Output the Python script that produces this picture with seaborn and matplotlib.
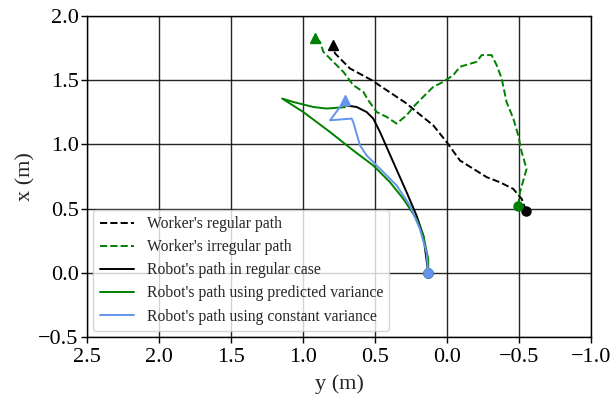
import matplotlib
matplotlib.use("Agg")
import matplotlib.pyplot as plt
import seaborn as sns
import numpy as np
import pandas as pd

# Worker's regular path (black dashed)  (y, x)
wr_y = [-0.549, -0.519, -0.460, -0.368, -0.276, -0.183, -0.090, 0.002, 0.095, 0.210, 0.280, 0.419, 0.523, 0.674, 0.778, 0.790]
wr_x = [0.484, 0.576, 0.654, 0.705, 0.745, 0.810, 0.875, 1.018, 1.148, 1.252, 1.318, 1.422, 1.500, 1.591, 1.709, 1.773]

# Worker's irregular path (green dashed)
wi_y = [-0.495, -0.507, -0.553, -0.519, -0.495, -0.461, -0.414, -0.380, -0.345, -0.310, -0.241, -0.206, -0.090, -0.044,
        0.026, 0.095, 0.165, 0.222, 0.280, 0.350, 0.419, 0.488, 0.547, 0.581, 0.651, 0.720, 0.790, 0.859, 0.882, 0.917]
wi_x = [0.523, 0.627, 0.810, 0.940, 1.070, 1.201, 1.330, 1.513, 1.617, 1.695, 1.695, 1.643, 1.604, 1.539,
        1.487, 1.448, 1.370, 1.305, 1.227, 1.162, 1.214, 1.252, 1.344, 1.409, 1.461, 1.565, 1.643, 1.721, 1.799, 1.826]

# Robot's path in regular case (black solid)
rr_y = [0.130, 0.164, 0.211, 0.280, 0.373, 0.465, 0.512, 0.558, 0.627, 0.708]
rr_x = [0.000, 0.289, 0.445, 0.627, 0.862, 1.096, 1.201, 1.252, 1.291, 1.305]

# Robot's path using predicted variance (green solid)
rp_y = [0.130, 0.130, 0.164, 0.211, 0.303, 0.396, 0.512, 0.651, 0.812, 0.998, 1.145, 1.067, 0.928, 0.836, 0.708]
rp_x = [0.000, 0.107, 0.289, 0.420, 0.576, 0.706, 0.836, 0.953, 1.096, 1.252, 1.357, 1.330, 1.291, 1.279, 1.290]

# Robot's path using constant variance (blue solid)
rc_y = [0.130, 0.142, 0.188, 0.257, 0.349, 0.465, 0.558, 0.604, 0.651, 0.662, 0.812, 0.708]
rc_x = [0.000, 0.159, 0.341, 0.523, 0.680, 0.810, 0.914, 0.992, 1.174, 1.201, 1.1875, 1.344]

sns.set_style("white")
plt.rcParams['font.family'] = ['Liberation Serif', 'DejaVu Serif']
plt.rcParams['mathtext.fontset'] = 'stix'

fig = plt.figure(figsize=(6.13, 3.98), dpi=100)
ax = fig.add_axes([0.142, 0.153, 0.822, 0.807])

series = [
    ("Worker's regular path", wr_y, wr_x, 'black', '--', True),
    ("Worker's irregular path", wi_y, wi_x, 'green', '--', True),
    ("Robot's path in regular case", rr_y, rr_x, 'black', '-', False),
    ("Robot's path using predicted variance", rp_y, rp_x, 'green', '-', False),
    ("Robot's path using constant variance", rc_y, rc_x, 'cornflowerblue', '-', True),
]

for label, ys, xs, col, ls, endmark in series:
    df = pd.DataFrame({'y': ys, 'x': xs})
    sns.lineplot(data=df, x='y', y='x', sort=False, estimator=None, color=col,
                 linestyle=ls, linewidth=1.4, ax=ax, label=label)
    ax.plot(ys[0], xs[0], marker='o', color=col, markersize=6.5, linestyle='none')
    if endmark:
        ax.plot(ys[-1], xs[-1], marker='^', color=col, markersize=6.5, linestyle='none')

ax.set_xlim(2.5, -1.0)
ax.set_ylim(-0.5, 2.0)
ax.set_xticks(np.arange(2.5, -1.01, -0.5))
ax.set_yticks(np.arange(-0.5, 2.01, 0.5))
ax.grid(True, color='black', linewidth=1.0, alpha=0.85)
ax.set_axisbelow(True)
for s in ax.spines.values():
    s.set_color('black')
    s.set_linewidth(1.0)
ax.tick_params(axis='both', which='major', labelsize=16, direction='out', length=4, width=1, bottom=True, left=True, colors='black', pad=2)
ax.tick_params(axis='x', pad=4)
ax.set_xlabel('y (m)', fontsize=16, labelpad=5)
ax.set_ylabel('x (m)', fontsize=16, labelpad=2)

ax.legend(loc='lower left', fontsize=11.3, frameon=True, borderaxespad=0.4,
          handlelength=2.2, labelspacing=0.45)

fig.savefig('out.png', dpi=100)
